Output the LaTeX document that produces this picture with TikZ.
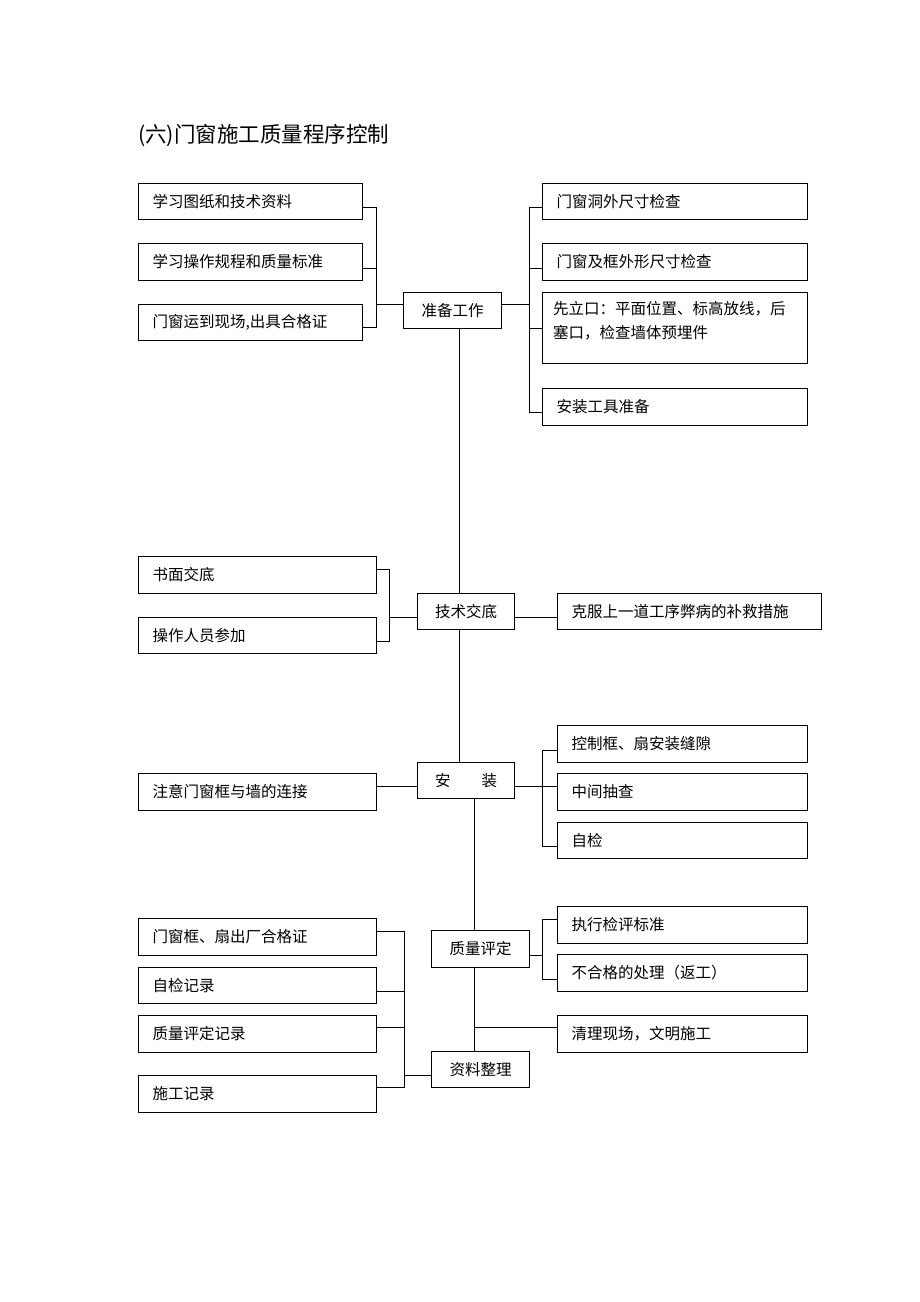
\documentclass[tikz,border=0pt]{standalone}
\usepackage{fontspec}
\newfontfamily\cjk{Noto Sans CJK SC}
\begin{document}
\begin{tikzpicture}[x=1pt,y=1pt,
  ln/.style={line width=1pt},
  box/.style={draw,line width=1pt,anchor=north west,inner xsep=14pt,inner ysep=0pt,align=left,font=\cjk\fontsize{15.5}{20}\selectfont},
  cbox/.style={draw,line width=1pt,anchor=north west,inner xsep=0pt,inner ysep=0pt,align=center,font=\cjk\fontsize{15.5}{20}\selectfont}]
\useasboundingbox (0,0) rectangle (920,-1302);
\node[anchor=west,font=\cjk\fontsize{21.5}{25}\selectfont,inner sep=0pt] (title) at (138,-136) {(六)门窗施工质量程序控制};

% top section
\node[box,minimum width=224pt,minimum height=36pt,text width=196pt] (L1) at (138,-183) {学习图纸和技术资料};
\node[box,minimum width=224pt,minimum height=37pt,text width=196pt] (L2) at (138,-243) {学习操作规程和质量标准};
\node[box,minimum width=224pt,minimum height=36pt,text width=196pt] (L3) at (138,-304) {门窗运到现场,出具合格证};
\node[cbox,minimum width=98pt,minimum height=36pt] (zb) at (403,-292) {准备工作};
\node[box,minimum width=265pt,minimum height=36pt,text width=237pt] (R1) at (542,-183) {门窗洞外尺寸检查};
\node[box,minimum width=265pt,minimum height=37pt,text width=237pt] (R2) at (542,-243) {门窗及框外形尺寸检查};
\node[draw,line width=1pt,anchor=north west,minimum width=265pt,minimum height=71pt,inner sep=0pt] (R3) at (542,-292) {};
\node[anchor=north west,inner sep=0pt,align=left,font=\cjk\fontsize{15.5}{24}\selectfont] (R3t) at ([xshift=11pt,yshift=-9pt]R3.north west) {先立口：平面位置、标高放线，后\\塞口，检查墙体预埋件};
\node[box,minimum width=265pt,minimum height=37pt,text width=237pt] (R4) at (542,-388) {安装工具准备};

\coordinate (jA) at (376.5,-304);
\coordinate (jB) at (529,-304);
\draw[ln] ([yshift=-6pt]L1.east) -| (jA);
\draw[ln] ([yshift=-6.5pt]L2.east) -| (jA);
\draw[ln] ([yshift=-5pt]L3.east) -| (jA);
\draw[ln] (jA) -- (jA -| zb.west);
\draw[ln] (jB -| zb.east) -- (jB);
\draw[ln] (jB) |- ([yshift=-6pt]R1.west);
\draw[ln] (jB) |- ([yshift=-6.5pt]R2.west);
\draw[ln] (jB) |- ([yshift=0pt]R3.west);
\draw[ln] (jB) |- ([yshift=-5.5pt]R4.west);

% technical briefing
\node[box,minimum width=238pt,minimum height=37pt,text width=210pt] (S1) at (138,-556) {书面交底};
\node[box,minimum width=238pt,minimum height=36pt,text width=210pt] (S2) at (138,-617) {操作人员参加};
\node[cbox,minimum width=97pt,minimum height=36pt] (jd) at (417,-593) {技术交底};
\node[box,minimum width=264pt,minimum height=36pt,text width=236pt] (K) at (557,-593) {克服上一道工序弊病的补救措施};
\coordinate (jC) at (389,-617);
\draw[ln] ([xshift=7pt]zb.south) -- ([xshift=-6.5pt]jd.north);
\draw[ln] ([yshift=5.5pt]S1.east) -| (jC);
\draw[ln] ([yshift=-6pt]S2.east) -| (jC);
\draw[ln] (jC) -- (jC -| jd.west);
\draw[ln] ([yshift=-6pt]jd.east) -- ([yshift=-6pt]K.west);

% installation
\node[box,minimum width=238pt,minimum height=37pt,text width=210pt] (Z) at (138,-773) {注意门窗框与墙的连接};
\node[cbox,minimum width=97pt,minimum height=36pt] (az) at (417,-762) {安\hspace{2em}装};
\node[box,minimum width=250pt,minimum height=37pt,text width=222pt] (M1) at (557,-725) {控制框、扇安装缝隙};
\node[box,minimum width=250pt,minimum height=37pt,text width=222pt] (M2) at (557,-773) {中间抽查};
\node[box,minimum width=250pt,minimum height=36pt,text width=222pt] (M3) at (557,-822) {自检};
\coordinate (jE) at (542,-786.5);
\draw[ln] ([xshift=-6.5pt]jd.south) -- ([xshift=-6.5pt]az.north);
\draw[ln] (Z.east |- jE) -- (az.west |- jE);
\draw[ln] (az.east |- jE) -- (jE) -- (M2.west |- jE);
\draw[ln] (jE) |- ([yshift=-6.5pt]M1.west);
\draw[ln] (jE) |- ([yshift=-6pt]M3.west);

% quality evaluation
\node[cbox,minimum width=98pt,minimum height=37pt] (qp) at (431,-930) {质量评定};
\node[cbox,minimum width=98pt,minimum height=36pt] (zl) at (431,-1051) {资料整理};
\node[box,minimum width=250pt,minimum height=37pt,text width=222pt] (Q1) at (557,-906) {执行检评标准};
\node[box,minimum width=250pt,minimum height=37pt,text width=222pt] (Q2) at (557,-954) {不合格的处理（返工）};
\node[box,minimum width=250pt,minimum height=37pt,text width=222pt] (Q3) at (557,-1015) {清理现场，文明施工};
\node[box,minimum width=238pt,minimum height=37pt,text width=210pt] (W1) at (138,-918) {门窗框、扇出厂合格证};
\node[box,minimum width=238pt,minimum height=36pt,text width=210pt] (W2) at (138,-967) {自检记录};
\node[box,minimum width=238pt,minimum height=37pt,text width=210pt] (W3) at (138,-1015) {质量评定记录};
\node[box,minimum width=238pt,minimum height=37pt,text width=210pt] (W4) at (138,-1075) {施工记录};
\coordinate (jF) at (542,-955);
\coordinate (jG) at (474,-1027.5);
\coordinate (jH) at (404,-1075);
\draw[ln] ([xshift=8pt]az.south) -- ([xshift=-6.5pt]qp.north);
\draw[ln] (qp.east |- jF) -- (jF);
\draw[ln] (jF) |- ([yshift=5.5pt]Q1.west);
\draw[ln] (jF) |- ([yshift=-6.5pt]Q2.west);
\draw[ln] ([xshift=-6.5pt]qp.south) -- ([xshift=-6.5pt]zl.north);
\draw[ln] (jG) -- (jG -| Q3.west);
\draw[ln] ([yshift=5.5pt]W1.east) -| (jH);
\draw[ln] ([yshift=-6pt]W2.east) -| (jH);
\draw[ln] ([yshift=6.5pt]W3.east) -| (jH);
\draw[ln] ([yshift=6.5pt]W4.east) -| (jH);
\draw[ln] (jH) -- (jH -| zl.west);
\end{tikzpicture}
\end{document}
